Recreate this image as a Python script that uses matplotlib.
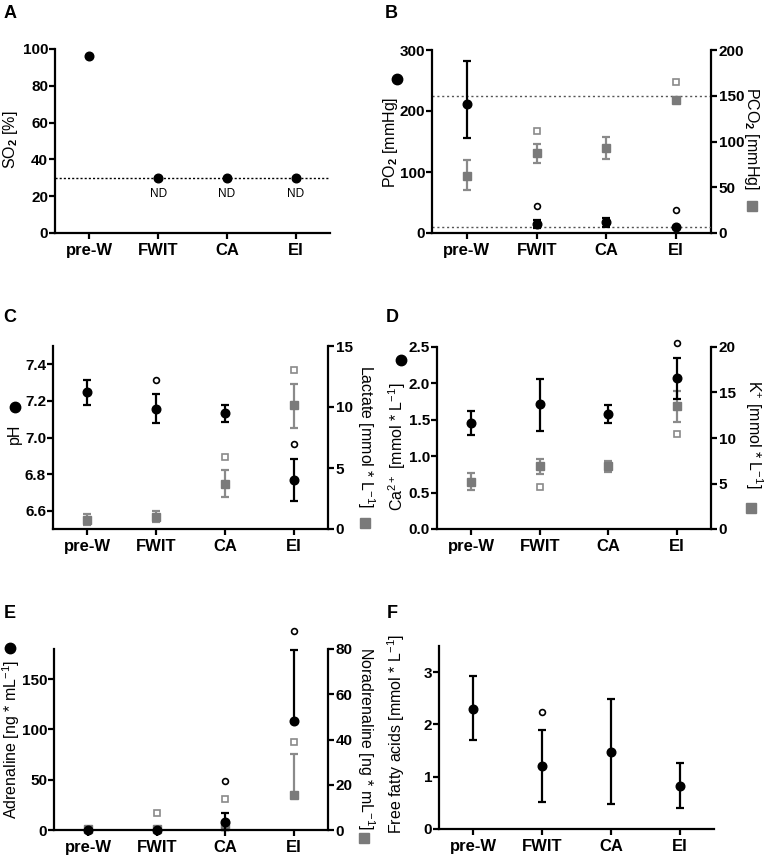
import numpy as np
import matplotlib
matplotlib.use('Agg')
import matplotlib.pyplot as plt

plt.rcParams['font.family'] = ['Liberation Sans', 'DejaVu Sans']
plt.rcParams['mathtext.fontset'] = 'custom'
plt.rcParams['mathtext.rm'] = 'Liberation Sans'
plt.rcParams['mathtext.it'] = 'Liberation Sans:italic'
plt.rcParams['mathtext.bf'] = 'Liberation Sans:bold'
plt.rcParams['font.weight'] = 'bold'

nan = np.nan
categories = ['pre-W', 'FWIT', 'CA', 'EI']

# A: SO2
so2 = [96, 30, 30, 30]
so2_nd = [False, True, True, True]
so2_ref = 30

# B: PO2 (left) / PCO2 (right)
po2 = [211, 15, 18, 10]
po2_hi = [282, 21, 24, 10]
po2_lo = [155, 9, 10, 10]
po2_out = [nan, 44, nan, 38]
pco2 = [62.4, 86.9, 92.7, 145]
pco2_hi = [79.6, 97, 105, 145]
pco2_lo = [46.7, 76, 80.7, 145]
pco2_out = [nan, 111.7, nan, 164.6]
po2_ref = 10
pco2_ref = 150

# C: pH (left) / Lactate (right)
ph = [7.247, 7.156, 7.135, 6.767]
ph_hi = [7.313, 7.24, 7.18, 6.88]
ph_lo = [7.178, 7.08, 7.085, 6.655]
ph_out = [nan, 7.316, nan, 6.962]
lac = [0.77, 0.99, 3.72, 10.13]
lac_hi = [1.2, 1.48, 4.87, 11.88]
lac_lo = [0.36, 0.57, 2.63, 8.29]
lac_out = [nan, nan, 5.91, 13.03]

# D: Ca2+ (left) / K+ (right)
ca = [1.456, 1.712, 1.584, 2.079]
ca_hi = [1.62, 2.065, 1.703, 2.344]
ca_lo = [1.287, 1.342, 1.456, 1.79]
ca_out = [nan, nan, nan, 2.56]
k = [5.16, 6.92, 6.89, 13.48]
k_hi = [6.15, 7.73, 7.47, 15.16]
k_lo = [4.25, 6.0, 6.26, 11.76]
k_out = [nan, 4.61, nan, 10.48]

# E: Adrenaline (left) / Noradrenaline (right)
adr = [0, 0.3, 8, 108]
adr_hi = [0, 0.3, 17.3, 179]
adr_lo = [0, 0.3, 0, 108]
adr_out = [nan, nan, 48.6, 197.5]
nor = [0.3, 0.5, 1.6, 15.4]
nor_hi = [0.3, 0.5, 2.5, 33.7]
nor_lo = [0.3, 0.5, 1.0, 15.4]
nor_out = [nan, 7.5, 13.7, 39.1]

# F: Free fatty acids
ffa = [2.30, 1.21, 1.47, 0.82]
ffa_hi = [2.92, 1.90, 2.48, 1.26]
ffa_lo = [1.70, 0.52, 0.485, 0.41]
ffa_out = [nan, 2.24, nan, nan]

W, H = 765, 859
fig = plt.figure(figsize=(W / 100, H / 100), dpi=100)

BLACK = '#000000'
GRAY = '#7a7a7a'
GRAY_E = '#8a8a8a'
TICK_FS = 11
LAB_FS = 11.5


def px_axes(l, r, top, bottom):
    return fig.add_axes([l / W, 1 - bottom / H, (r - l) / W, (bottom - top) / H])


def style(ax):
    for s in ['top', 'right']:
        ax.spines[s].set_visible(False)
    for s in ['left', 'bottom']:
        ax.spines[s].set_linewidth(1.6)
    ax.tick_params(width=1.6, length=4, labelsize=TICK_FS, pad=1)
    ax.set_xticks(range(len(categories)))
    ax.set_xticklabels(categories, fontsize=12, fontweight='bold')
    ax.tick_params(axis='x', pad=3)
    ax.set_xlim(-0.5, 3.5)


def style_right(ax2):
    for s in ['top', 'left', 'bottom']:
        ax2.spines[s].set_visible(False)
    ax2.spines['right'].set_linewidth(1.6)
    ax2.tick_params(width=1.6, length=4, labelsize=TICK_FS, pad=1.5)


x = np.arange(len(categories))


def series(ax, vals, hi, lo, out, color, marker, ms, ecolor, mec_out):
    v = np.array(vals, float)
    err = [v - np.array(lo, float), np.array(hi, float) - v]
    ax.errorbar(x, v, yerr=err, fmt=marker, color=color, ecolor=ecolor, ms=ms,
                capsize=3.2, elinewidth=1.6, capthick=1.6, zorder=3, clip_on=False)
    ax.plot(x, out, marker=marker, ls='none', ms=4.2, mfc='white', mec=mec_out,
            mew=1.2, clip_on=False, zorder=4)


def black(ax, vals, hi, lo, out):
    series(ax, vals, hi, lo, out, BLACK, 'o', 6.2, BLACK, BLACK)


def gray(ax, vals, hi, lo, out):
    series(ax, vals, hi, lo, out, GRAY, 's', 5.8, GRAY_E, GRAY_E)


# ---- A
axA = px_axes(55, 330, 49, 233)
style(axA)
axA.set_ylim(0, 100)
axA.set_yticks([0, 20, 40, 60, 80, 100])
axA.axhline(so2_ref, color='k', ls=(0, (1.5, 1.5)), lw=1.0, zorder=1)
axA.plot(x, so2, 'o', color=BLACK, ms=6.2, zorder=3)
for xi, v, nd in zip(x, so2, so2_nd):
    if nd:
        axA.text(xi, v - 9, 'ND', ha='center', va='center', fontsize=8.5, fontweight='normal')

# ---- B
axB = px_axes(432, 711, 50, 233)
style(axB)
axB.set_ylim(0, 300)
axB.set_yticks([0, 100, 200, 300])
axB2 = axB.twinx()
style_right(axB2)
axB2.set_ylim(0, 200)
axB2.set_yticks([0, 50, 100, 150, 200])
axB.set_zorder(axB2.get_zorder() + 1)
axB.patch.set_visible(False)
axB.axhline(po2_ref, color='#555555', ls=(0, (1.5, 2)), lw=1.0, zorder=1)
axB2.axhline(pco2_ref, color='#555555', ls=(0, (1.5, 2)), lw=1.0, zorder=1)
gray(axB2, pco2, pco2_hi, pco2_lo, pco2_out)
black(axB, po2, po2_hi, po2_lo, po2_out)

# ---- C
axC = px_axes(53, 328, 346, 529)
style(axC)
axC.set_ylim(6.5, 7.5)
axC.set_yticks([6.6, 6.8, 7.0, 7.2, 7.4])
axC.set_yticklabels(['6.6', '6.8', '7.0', '7.2', '7.4'])
axC2 = axC.twinx()
style_right(axC2)
axC2.set_ylim(0, 15)
axC2.set_yticks([0, 5, 10, 15])
axC.set_zorder(axC2.get_zorder() + 1)
axC.patch.set_visible(False)
gray(axC2, lac, lac_hi, lac_lo, lac_out)
black(axC, ph, ph_hi, ph_lo, ph_out)

# ---- D
axD = px_axes(437, 711, 347, 529)
style(axD)
axD.set_ylim(0, 2.5)
axD.set_yticks([0, 0.5, 1.0, 1.5, 2.0, 2.5])
axD.set_yticklabels(['0.0', '0.5', '1.0', '1.5', '2.0', '2.5'])
axD2 = axD.twinx()
style_right(axD2)
axD2.set_ylim(0, 20)
axD2.set_yticks([0, 5, 10, 15, 20])
axD.set_zorder(axD2.get_zorder() + 1)
axD.patch.set_visible(False)
gray(axD2, k, k_hi, k_lo, k_out)
black(axD, ca, ca_hi, ca_lo, ca_out)

# ---- E
axE = px_axes(54, 328, 649, 830)
style(axE)
axE.set_ylim(0, 180)
axE.set_yticks([0, 50, 100, 150])
axE2 = axE.twinx()
style_right(axE2)
axE2.set_ylim(0, 80)
axE2.set_yticks([0, 20, 40, 60, 80])
axE.set_zorder(axE2.get_zorder() + 1)
axE.patch.set_visible(False)
gray(axE2, nor, nor_hi, nor_lo, nor_out)
black(axE, adr, adr_hi, adr_lo, adr_out)

# ---- F
axF = px_axes(439, 714, 646, 829)
style(axF)
axF.set_ylim(0, 3.5)
axF.set_yticks([0, 1, 2, 3])
black(axF, ffa, ffa_hi, ffa_lo, ffa_out)

# ---- overlay for labels, panel letters and legend markers (pixel coords)
ov = fig.add_axes([0, 0, 1, 1])
ov.set_zorder(20)
ov.set_xlim(0, W)
ov.set_ylim(H, 0)
ov.axis('off')


def lab(xp, yp, s, rot):
    ov.text(xp, yp, s, rotation=rot, ha='center', va='center', fontsize=LAB_FS,
            fontweight='normal', rotation_mode='anchor')


lab(11, 140, r'SO$_2$ [%]', 90)
lab(391, 142, r'PO$_2$ [mmHg]', 90)
lab(752, 138, r'PCO$_2$ [mmHg]', 270)
lab(14, 434, 'pH', 90)
lab(366, 437, r'Lactate [mmol * L$^{\mathregular{-1}}$]', 270)
lab(397, 447, r'Ca$^{\mathregular{2+}}$ [mmol * L$^{\mathregular{-1}}$]', 90)
lab(754, 434, r'K$^{\mathregular{+}}$ [mmol * L$^{\mathregular{-1}}$]', 270)
lab(11, 739, r'Adrenaline [ng * mL$^{\mathregular{-1}}$]', 90)
lab(366, 739, r'Noradrenaline [ng * mL$^{\mathregular{-1}}$]', 270)
lab(396, 734, r'Free fatty acids [mmol * L$^{\mathregular{-1}}$]', 90)

for xp, yp, mk, c in [(397, 79, 'o', BLACK), (752, 206, 's', GRAY),
                      (15, 407, 'o', BLACK), (365, 523, 's', GRAY),
                      (401, 360, 'o', BLACK), (751, 508, 's', GRAY),
                      (10, 648, 'o', BLACK), (364, 838, 's', GRAY)]:
    ov.plot([xp], [yp], marker=mk, color=c, ms=7.5 if mk == 'o' else 7)

for xp, yp, s in [(10, 14, 'A'), (391, 14, 'B'), (10, 318, 'C'), (392, 318, 'D'),
                  (10, 613, 'E'), (392, 613, 'F')]:
    ov.text(xp, yp, s, ha='center', va='center', fontsize=13, fontweight='bold')

fig.savefig('out.png', dpi=100)
